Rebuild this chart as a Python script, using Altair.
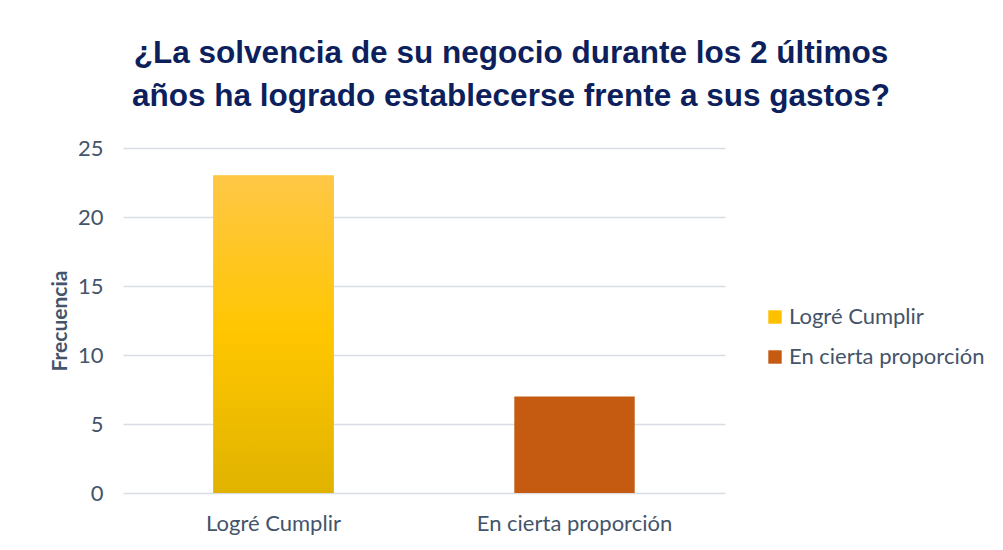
import altair as alt
import pandas as pd

categories = ["Logré Cumplir", "En cierta proporción"]
values = [23, 7]
colors = ["#FFC000", "#C55A11"]

df = pd.DataFrame({"cat": categories, "val": values})

LBL = "#44546A"
FONT = "Lato"

x_enc = alt.X("cat:N", sort=categories, title=None,
              scale=alt.Scale(paddingInner=0.6, paddingOuter=0.3),
              axis=alt.Axis(labelAngle=0, labelFontSize=22, labelColor=LBL,
                            labelFont=FONT, labelPadding=20, labelLimit=400, ticks=False,
                            domain=False, grid=False))
y_enc = alt.Y("val:Q", title="Frecuencia",
              scale=alt.Scale(domain=[0, 25]),
              axis=alt.Axis(values=[0, 5, 10, 15, 20, 25], labelFontSize=22,
                            labelColor=LBL, labelFont=FONT, labelPadding=20,
                            ticks=False, domain=False, gridColor="#D9DDE3", gridWidth=1.5,
                            titleFont=FONT, titleFontSize=21, titleColor=LBL,
                            titleFontWeight="bold", titlePadding=7))

bars = alt.Chart(df).mark_bar().encode(
    x=x_enc, y=y_enc,
    color=alt.Color("cat:N", sort=categories,
                    scale=alt.Scale(domain=categories, range=colors),
                    legend=alt.Legend(title=None, orient="none", legendX=641, legendY=158,
                                      labelFontSize=22, labelColor=LBL,
                                      labelFont=FONT, symbolType="square",
                                      symbolSize=180, symbolStrokeWidth=0,
                                      rowPadding=18, labelOffset=3, labelLimit=400))
)

grad = alt.Gradient(gradient="linear", x1=0, y1=0, x2=0, y2=1,
                    stops=[alt.GradientStop(offset=0, color="#FFC746"),
                           alt.GradientStop(offset=0.5, color="#FFC600"),
                           alt.GradientStop(offset=1, color="#E0B300")])

grad_bar = alt.Chart(df).transform_filter(
    alt.datum.cat == categories[0]
).mark_bar(fill=grad).encode(x=x_enc, y=y_enc)

chart = alt.layer(bars, grad_bar).properties(
    width=602, height=345,
    title=alt.TitleParams(
        text=["¿La solvencia de su negocio durante los 2 últimos",
              "años ha logrado establecerse frente a sus gastos?"],
        font="Liberation Sans", fontSize=31.5, fontWeight="bold", color="#0D1F5C",
        anchor="middle", dx=87, lineHeight=43, offset=25),
    autosize=alt.AutoSizeParams(type="none"),
    padding={"left": 115, "top": 140, "right": 270, "bottom": 49},
).configure(background="white").configure_view(strokeWidth=0)

chart.save("out.html", embed_options={"renderer": "svg", "actions": False})
